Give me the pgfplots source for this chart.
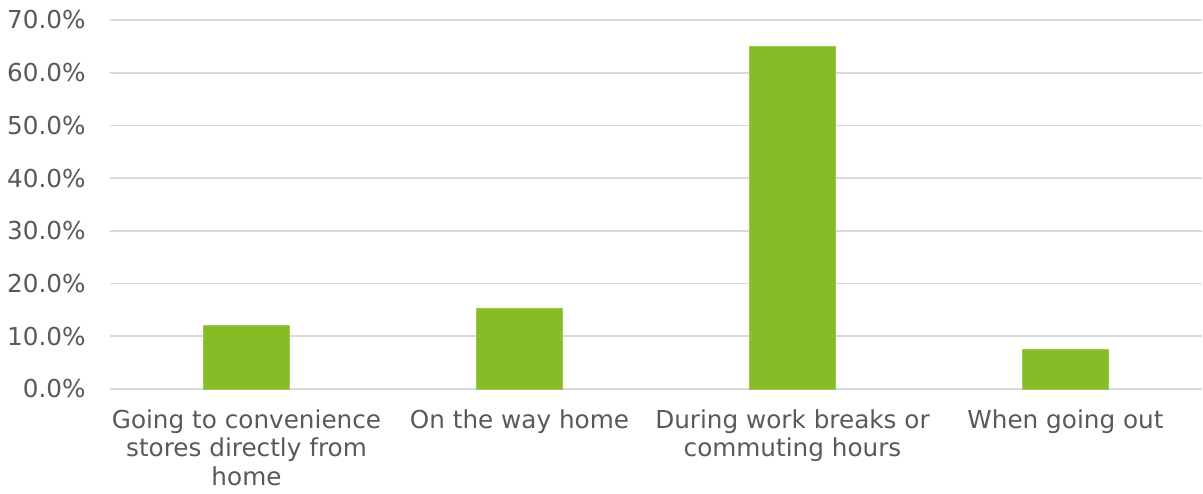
\documentclass[border=0pt]{standalone}
\usepackage{fontspec}
\setmainfont{DejaVu Sans}
\usepackage{pgfplots}
\pgfplotsset{compat=1.18}
\definecolor{barg}{HTML}{86BC25}
\definecolor{gridg}{HTML}{D9D9D9}
\definecolor{txtg}{HTML}{595959}
\begin{document}
\fontsize{24.7pt}{28.5pt}\selectfont
\begin{tikzpicture}[x=1pt,y=1pt]
\useasboundingbox (-110,-104) rectangle (1093,389);
\begin{axis}[
  at={(0,0)}, anchor=south west,
  scale only axis,
  width=1092pt, height=369pt,
  xmin=-0.5, xmax=3.5,
  ymin=0, ymax=70,
  ytick={0,10,20,30,40,50,60,70},
  xtick={0,1,2,3},
  xticklabels={{Going to convenience\\stores directly from\\home},{On the way home},{During work breaks or\\commuting hours},{When going out}},
  /pgf/number format/assume math mode=true,
  yticklabel={\pgfmathprintnumber[fixed,fixed zerofill,precision=1]{\tick}\%},
  axis line style={draw=none},
  major tick length=0pt,
  ymajorgrids,
  grid style={gridg, line width=1.8pt},
  tick label style={text=txtg, font=\fontsize{24.7pt}{28.5pt}\selectfont},
  xticklabel style={align=center, anchor=north, yshift=-12pt},
  yticklabel style={anchor=east, xshift=-16pt},
  ybar, bar width=86pt,
  clip=false,
]
\addplot[fill=barg, draw=barg!80!white, line width=0.6pt] coordinates {(0,12.1) (1,15.4) (2,65.0) (3,7.5)};
\end{axis}
\end{tikzpicture}
\end{document}
